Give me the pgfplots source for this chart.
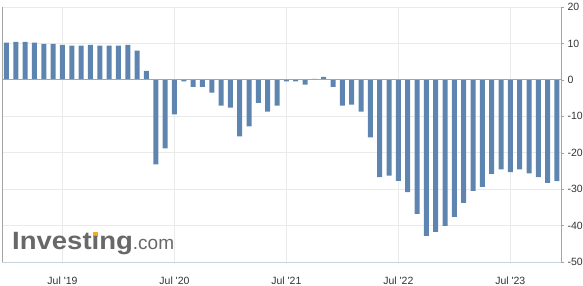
\documentclass[border=0pt]{standalone}
\usepackage{graphicx}
\usepackage{pgfplots}
\pgfplotsset{compat=1.18}
\usepackage{fontspec}
\setmainfont{Liberation Sans}
\definecolor{barblue}{RGB}{94,133,176}
\definecolor{gridgray}{RGB}{234,234,234}
\definecolor{axgray}{RGB}{165,165,165}
\definecolor{botline}{RGB}{197,212,227}
\definecolor{labelgray}{RGB}{51,51,51}
\definecolor{logogray}{RGB}{104,104,104}
\definecolor{logoorange}{RGB}{242,172,40}
\pgfplotstableread{
idx val
0 10.2
1 10.4
2 10.4
3 10.2
4 9.9
5 9.9
6 9.6
7 9.4
8 9.4
9 9.6
10 9.4
11 9.4
12 9.4
13 9.6
14 8.0
15 2.5
16 -23.2
17 -18.8
18 -9.5
19 -0.4
20 -1.9
21 -1.9
22 -3.5
23 -7.1
24 -7.6
25 -15.5
26 -12.8
27 -6.3
28 -8.7
29 -7.1
30 -0.4
31 -0.4
32 -1.3
33 0.3
34 0.8
35 -1.9
36 -7.1
37 -6.8
38 -8.7
39 -15.8
40 -26.7
41 -26.3
42 -27.7
43 -30.8
44 -36.8
45 -42.8
46 -41.7
47 -40.1
48 -37.6
49 -33.8
50 -30.5
51 -29.4
52 -25.8
53 -24.6
54 -25.3
55 -24.6
56 -25.7
57 -26.7
58 -28.3
59 -27.8
}\datatable
\begin{document}
\begin{tikzpicture}
\useasboundingbox (-2pt,-24pt) rectangle (581pt,262pt);
\begin{axis}[
  at={(0,0)}, anchor=south west,
  scale only axis, width=559pt, height=255pt,
  xmin=-0.48, xmax=59.43, ymin=-50, ymax=20,
  axis line style={draw=none},
  ytick={-50,-40,...,20},
  ytick pos=right, yticklabel pos=right,
  xtick={6,18,30,42,54},
  xticklabels={Jul \textquotesingle19,Jul \textquotesingle20,Jul \textquotesingle21,Jul \textquotesingle22,Jul \textquotesingle23},
  xtick style={draw=none},
  ytick style={axgray},
  major tick length=3pt, tick align=outside,
  xmajorgrids, ymajorgrids,
  grid style={gridgray, line width=0.8pt},
  ticklabel style={font=\fontsize{10.5}{12}\selectfont, text=labelgray},
  xticklabel style={yshift=-8pt},
  /pgf/number format/assume math mode=true,
  clip=false,
]
\addplot[ybar, bar width=5pt, bar shift=0pt, draw=none, fill=barblue] table[x=idx, y=val] {\datatable};
\draw[axgray, line width=0.8pt] (axis cs:-0.48,0) -- (axis cs:59.43,0);
\draw[axgray, line width=0.8pt] (rel axis cs:0,0) -- (rel axis cs:0,1);
\draw[axgray, line width=0.8pt] (rel axis cs:1,0) -- (rel axis cs:1,1);
\draw[botline, line width=0.8pt] (rel axis cs:0,0) -- (rel axis cs:1,0);
\end{axis}
\node[anchor=base west, inner sep=0pt, text=logogray] at (10pt,12pt)
  {\scalebox{1.1}[1.0]{\fontsize{25}{25}\selectfont\bfseries Invest\rlap{\hspace{1.6pt}\textcolor{logoorange}{\rule[13.2pt]{4pt}{4.6pt}}}\i ng}\fontsize{19}{19}\selectfont .com};
\end{tikzpicture}
\end{document}
